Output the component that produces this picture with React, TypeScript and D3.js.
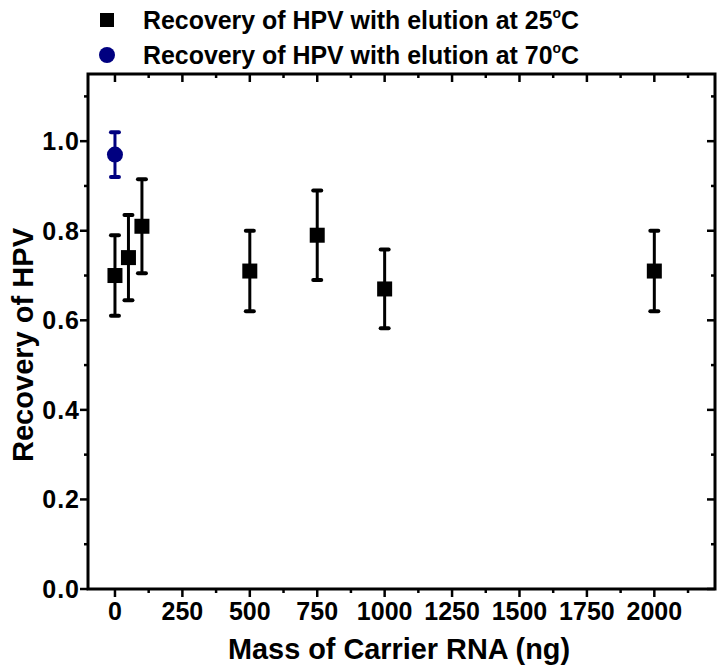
import React from "react";
import { scaleLinear } from "d3";

const width = 720;
const height = 670;
const left = 88;
const right = 715;
const top = 74;
const bottom = 589;

// elution at 25 C
const mass25 = [0, 50, 100, 500, 750, 1000, 2000];
const recovery25 = [0.7, 0.74, 0.81, 0.71, 0.79, 0.67, 0.71];
const error25 = [0.09, 0.095, 0.105, 0.09, 0.1, 0.088, 0.09];

// elution at 70 C
const mass70 = [0];
const recovery70 = [0.97];
const error70 = [0.05];

const xTicks = [0, 250, 500, 750, 1000, 1250, 1500, 1750, 2000];
const xMinor = [-125, 125, 375, 625, 875, 1125, 1375, 1625, 1875, 2125];
const yTicks = [0, 0.2, 0.4, 0.6, 0.8, 1.0];
const yMinor = [0.1, 0.3, 0.5, 0.7, 0.9, 1.1];

const x = scaleLinear().domain([-100, 2225]).range([left, right]);
const y = scaleLinear().domain([0, 1.15]).range([bottom, top]);

const font = "'Liberation Sans', Arial, sans-serif";
const navy = "#000080";

const ErrorBar = ({ cx, v, e, color }) => (
  <g stroke={color} strokeWidth={3}>
    <line x1={cx} x2={cx} y1={y(v + e)} y2={y(v - e)} />
    <line x1={cx - 4} x2={cx + 4} y1={y(v + e)} y2={y(v + e)} strokeLinecap="round" strokeWidth={4} />
    <line x1={cx - 4} x2={cx + 4} y1={y(v - e)} y2={y(v - e)} strokeLinecap="round" strokeWidth={4} />
  </g>
);

const LegendText = ({ yPos, temp }) => (
  <text x={143} y={yPos} fontSize={25} fontWeight="bold" textLength={436} lengthAdjust="spacingAndGlyphs">
    Recovery of HPV with elution at {temp}
    <tspan dy={-11} fontSize={14}>o</tspan>
    <tspan dy={11}>C</tspan>
  </text>
);

export default function App() {
  return (
    <svg width={width} height={height} style={{ position: "absolute", left: 0, top: 0 }} fontFamily={font}>
      <rect width={width} height={height} fill="white" />

      {/* legend */}
      <rect x={100} y={13} width={14} height={14} fill="black" />
      <LegendText yPos={29} temp="25" />
      <circle cx={107} cy={55} r={8} fill={navy} />
      <LegendText yPos={64} temp="70" />

      {/* ticks */}
      <g stroke="black" strokeWidth={2.5}>
        {yTicks.map((t) => (
          <g key={"y" + t}>
            <line x1={left - 8} x2={left} y1={y(t)} y2={y(t)} />
            <line x1={right - 8} x2={right} y1={y(t)} y2={y(t)} />
          </g>
        ))}
        {yMinor.map((t) => (
          <g key={"ym" + t}>
            <line x1={left - 4} x2={left} y1={y(t)} y2={y(t)} />
            <line x1={right - 4} x2={right} y1={y(t)} y2={y(t)} />
          </g>
        ))}
        {xTicks.map((t) => (
          <g key={"x" + t}>
            <line x1={x(t)} x2={x(t)} y1={bottom} y2={bottom + 8} />
            <line x1={x(t)} x2={x(t)} y1={top} y2={top + 8} />
          </g>
        ))}
        {xMinor
          .filter((t) => x(t) > left && x(t) < right)
          .map((t) => (
            <g key={"xm" + t}>
              <line x1={x(t)} x2={x(t)} y1={bottom} y2={bottom + 4} />
              <line x1={x(t)} x2={x(t)} y1={top} y2={top + 4} />
            </g>
          ))}
      </g>

      {/* frame */}
      <rect x={left} y={top} width={right - left} height={bottom - top} fill="none" stroke="black" strokeWidth={3} />

      {/* tick labels */}
      <g fontSize={25} fontWeight="bold">
        {yTicks.map((t) => (
          <text key={"yl" + t} x={left - 8} y={y(t)} dy="0.36em" textAnchor="end" letterSpacing={1}>
            {t.toFixed(1)}
          </text>
        ))}
        {xTicks.map((t) => (
          <text key={"xl" + t} x={x(t)} y={bottom + 31} textAnchor="middle">
            {t}
          </text>
        ))}
      </g>

      {/* axis titles */}
      <text x={399} y={659} fontSize={30} fontWeight="bold" textAnchor="middle" textLength={342} lengthAdjust="spacingAndGlyphs">
        Mass of Carrier RNA (ng)
      </text>
      <text
        transform={`translate(33, 345) rotate(-90)`}
        fontSize={30}
        fontWeight="bold"
        textAnchor="middle"
        textLength={234}
        lengthAdjust="spacingAndGlyphs"
      >
        Recovery of HPV
      </text>

      {/* data */}
      {mass25.map((m, i) => (
        <g key={"s" + m}>
          <ErrorBar cx={x(m)} v={recovery25[i]} e={error25[i]} color="black" />
          <rect x={x(m) - 7.5} y={y(recovery25[i]) - 7.5} width={15} height={15} fill="black" />
        </g>
      ))}
      {mass70.map((m, i) => (
        <g key={"c" + m}>
          <ErrorBar cx={x(m)} v={recovery70[i]} e={error70[i]} color={navy} />
          <circle cx={x(m)} cy={y(recovery70[i])} r={8} fill={navy} />
        </g>
      ))}
    </svg>
  );
}
